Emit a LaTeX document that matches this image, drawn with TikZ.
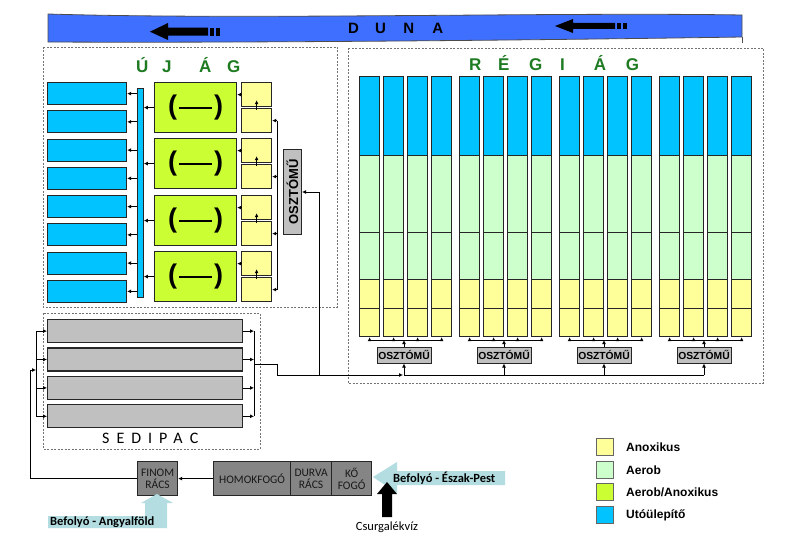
\documentclass[tikz,border=0pt]{standalone}
\usepackage{fontspec}
\setmainfont{Liberation Sans}
\newfontfamily\calib{Carlito}
\usetikzlibrary{arrows.meta,calc}
\definecolor{ubl}{HTML}{00C3FF}
\definecolor{aer}{HTML}{CCFFCC}
\definecolor{anox}{HTML}{FFFF99}
\definecolor{aeran}{HTML}{CCFF33}
\definecolor{grb}{HTML}{C0C0C0}
\definecolor{dgr}{HTML}{858585}
\definecolor{lbl}{HTML}{B3DDE0}
\definecolor{river}{HTML}{3F6FFF}
\definecolor{tgreen}{HTML}{1E7B22}
\tikzset{
  box/.style={draw=black!85, line width=1.2pt, inner sep=0pt, anchor=north west},
  arr/.style={-{Latex[length=4pt,width=4pt]}, line width=0.8pt},
  ln/.style={line width=0.8pt},
  dbox/.style={draw=black!55, dash pattern=on 2pt off 1.5pt, line width=0.7pt},
  title/.style={font=\bfseries\fontsize{17}{17}\selectfont, text=tgreen, anchor=base west, inner sep=0pt},
  osz/.style={box, fill=grb, anchor=center, line width=1pt, minimum width=54, minimum height=16, font=\bfseries\fontsize{10.3}{10.3}\selectfont},
  pre/.style={box, fill=dgr, minimum height=34, align=center, text=black!90, font=\calib\fontsize{11.5}{12}\selectfont},
  leg/.style={box, draw=black!60, line width=0.8pt, minimum width=17, minimum height=17},
  legt/.style={anchor=west, inner sep=0pt, font=\bfseries\fontsize{12}{12}\selectfont},
}
\begin{document}
\begin{tikzpicture}[x=1pt,y=-1pt]
\useasboundingbox (0,0) rectangle (796,543);
% river
\fill[river, draw=black!70, line width=0.8pt] (48,14) .. controls (250,20) and (550,12) .. (742,15) -- (742,37) .. controls (550,40) and (250,43) .. (48,42) -- cycle;
\draw[line width=0.8pt, black!70] (742,37) -- (742,43);
\fill (150,31.7) -- (168,23) -- (168,27.7) -- (208,27.7) -- (208,35.7) -- (168,35.7) -- (168,40) -- cycle;
\fill (210,27.7) rectangle (214,35.7);
\fill (216,27.7) rectangle (220,35.7);
\fill (555,26) -- (573,19) -- (573,23) -- (615,23) -- (615,29) -- (573,29) -- (573,33) -- cycle;
\fill (617,23) rectangle (621,29);
\fill (623,23) rectangle (627,29);
\node[font=\bfseries\fontsize{15}{15}\selectfont, anchor=base west, inner sep=0pt] (duna) at (348,33.5) {D\hspace{16.2pt}U\hspace{17.2pt}N\hspace{18.2pt}A};
% dashed frames
\draw[dbox] (43,47) rectangle (337,307);
\draw[dbox] (348,48) rectangle (763,383);
\draw[dbox] (43,313) rectangle (260,449);
% titles
\node[title] (ujag) at (136,72.5) {Ú\hspace{13.7pt}J\hspace{27.5pt}Á\hspace{15.7pt}G};
\node[title] (regiag) at (469,70.5) {R\hspace{16.7pt}É\hspace{19.6pt}G\hspace{17.7pt}I\hspace{29.2pt}Á\hspace{19.7pt}G};
% UJ AG
\foreach \i in {0,...,7}{
  \pgfmathsetmacro\t{82+28.25*\i}
  \node[box, fill=ubl, minimum width=79, minimum height=22] (u\i) at (47,\t) {};
}
\node[box, fill=ubl, line width=0.8pt, minimum width=6, minimum height=209] (bar) at (137,88) {};
\foreach \t [count=\k from 0] in {82,138,195,251}{
  \node[box, fill=aeran, minimum width=82, minimum height=50, font=\bfseries\fontsize{27}{27}\selectfont] (g\k) at (154,\t) {(\hspace{2pt}\rule[5.5pt]{33pt}{2.4pt}\hspace{2pt})};
  \node[box, fill=anox, minimum width=30, minimum height=24] (ya\k) at (241,\t) {};
  \node[box, fill=anox, minimum width=30, minimum height=24] (yb\k) at (241,{\t+26}) {};
}
\node[box, fill=grb, line width=1pt, minimum width=18, minimum height=85, font=\bfseries\fontsize{13}{13}\selectfont] (uo) at (283,149) {\rotatebox{90}{OSZTÓMŰ}};
\coordinate (dl) at (277,0);
\draw[ln] (yb0.east -| dl) -- (yb3.east -| dl);
\foreach \k in {0,...,3}{
  \draw[arr] (yb\k.east -| dl) -- (yb\k.east);
  \draw[arr] ($(yb\k.north)+(0,2)$) -- ($(ya\k.south)+(0,-7)$);
  \draw[arr] (ya\k.west) -- (ya\k.west -| g\k.east);
  \draw[arr] (g\k.west) -- (g\k.west -| bar.east);
}
\foreach \i in {0,...,7} \draw[arr] (u\i.east -| bar.west) -- (u\i.east);
% REGI AG
\foreach \g in {0,...,3}{
  \foreach \j in {0,...,3}{
    \pgfmathsetmacro\xa{359+100*\g+24*\j}
    \node[box, fill=ubl, minimum width=20, minimum height=79] (c\g\j-a) at (\xa,76) {};
    \node[box, fill=aer, minimum width=20, minimum height=77] (c\g\j-b) at (\xa,155) {};
    \node[box, fill=aer, minimum width=20, minimum height=47] (c\g\j-c) at (\xa,232) {};
    \node[box, fill=anox, minimum width=20, minimum height=29] (c\g\j-d) at (\xa,279) {};
    \node[box, fill=anox, minimum width=20, minimum height=28] (c\g\j-e) at (\xa,308) {};
  }
  \pgfmathsetmacro\xo{404+100*\g}
  \node[osz] (o\g) at (\xo,355) {OSZTÓMŰ};
  \coordinate (b\g) at (\xo,340);
  \coordinate (mb\g) at (\xo,375);
  \draw[ln] (c\g0-e.south |- b\g) -- (c\g3-e.south |- b\g);
  \foreach \j in {0,...,3} \draw[arr] (c\g\j-e.south |- b\g) -- (c\g\j-e.south);
  \draw[arr] (o\g.north) -- (b\g);
  \draw[arr] (mb\g) -- (o\g.south);
}
% SEDIPAC
\foreach \i in {0,...,3}{
  \pgfmathsetmacro\t{319+28.4*\i}
  \node[box, fill=grb, minimum width=195, minimum height=23] (s\i) at (47,\t) {};
}
\node[anchor=base west, inner sep=0pt, font=\calib\fontsize{16}{16}\selectfont] (sedipac) at (102,443) {S\hspace{7pt}E\hspace{7pt}D\hspace{7pt}I\hspace{7pt}P\hspace{6pt}A\hspace{7pt}C};
\coordinate (sl) at (36,0);
\coordinate (sr) at (254,0);
\draw[ln] (s0.west -| sl) -- (s3.west -| sl);
\draw[ln] (s0.east -| sr) -- (s3.east -| sr);
\foreach \i in {0,...,3}{
  \draw[arr] (s\i.west -| sl) -- (s\i.west);
  \draw[arr] (s\i.east) -- (s\i.east -| sr);
}
\coordinate (sx) at (254,364);
\coordinate (jn) at (319,375);
\draw[arr] (sx) -- (277,364) |- ($(mb0)+(-1,0)$);
\draw[ln] (mb0) -- (mb3);
\draw[arr] (jn) |- (uo.east);
% pre-treatment
\node[pre, minimum width=40] (finom) at (137,461) {FINOM\\RÁCS};
\node[pre, minimum width=77] (homok) at (213,461) {HOMOKFOGÓ};
\node[pre, minimum width=41] (durva) at (290,461) {DURVA\\RÁCS};
\node[pre, minimum width=40] (ko) at (331,461) {KŐ\\FOGÓ};
\draw[arr] (homok.west) -- (finom.east);
\coordinate (sin) at (36,370);
\draw[arr] (finom.west) -| ($(sin)+(-6,0)$) -- (sin);
% inflows
\fill[lbl] (373,477) -- (397,462) -- (397,471) -- (505,471) -- (505,485) -- (397,485) -- (397,493) -- cycle;
\node[anchor=west, inner sep=0pt, font=\calib\bfseries\fontsize{12.5}{12.5}\selectfont] (ep) at (393,478) {Befolyó - Észak-Pest};
\fill (387,482) -- (397,494) -- (392,494) -- (392,517) -- (382,517) -- (382,494) -- (377,494) -- cycle;
\node[inner sep=0pt, font=\calib\fontsize{12.5}{12.5}\selectfont] (csv) at (387,527) {Csurgalékvíz};
\fill[lbl] (157,494) -- (173,503) -- (167,503) -- (167,528) -- (48,528) -- (48,516) -- (145,516) -- (145,503) -- (141,503) -- cycle;
\node[anchor=west, inner sep=0pt, font=\calib\bfseries\fontsize{12.5}{12.5}\selectfont] (af) at (50,522) {Befolyó - Angyalföld};
% legend
\node[leg, fill=anox] (l1) at (596,438) {};
\node[leg, fill=aer] (l2) at (596,461) {};
\node[leg, fill=aeran] (l3) at (596,483) {};
\node[leg, fill=ubl] (l4) at (596,506) {};
\node[legt] (lt1) at (626,447) {Anoxikus};
\node[legt] (lt2) at (626,470) {Aerob};
\node[legt] (lt3) at (626,492) {Aerob/Anoxikus};
\node[legt] (lt4) at (626,515) {Utóülepítő};
\end{tikzpicture}
\end{document}
